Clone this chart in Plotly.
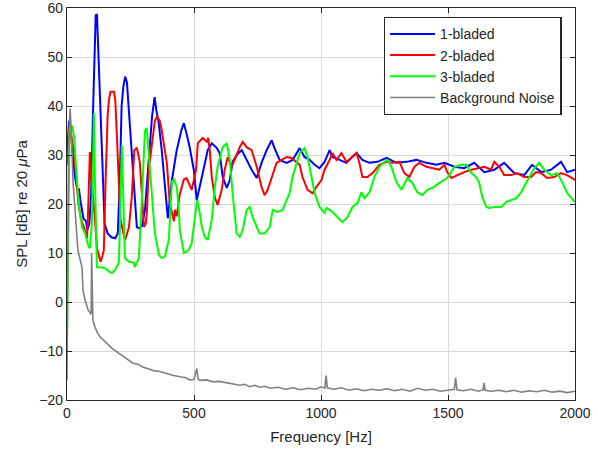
import plotly.graph_objects as go

# ---------------- data ----------------
freq_1 = [0, 8, 18, 30, 40, 47, 55, 65, 75, 80, 88, 95, 102, 108, 113, 118, 124, 132, 140, 148, 160, 175, 190, 200,
          208, 215, 222, 229, 236, 245, 255, 275, 285, 295, 307, 322, 335, 345, 352, 360, 373, 385, 393, 397, 413,
          432, 450, 460, 470, 483, 499, 511, 531, 554, 570, 590, 601, 613, 629, 641, 652, 668, 688, 707, 727, 747,
          766, 786, 806, 817, 837, 865, 888, 916, 935, 955, 975, 994, 1014, 1034, 1045, 1073, 1100, 1140, 1163,
          1191, 1222, 1258, 1297, 1336, 1376, 1415, 1454, 1486, 1525, 1564, 1603, 1643, 1682, 1721, 1761, 1800,
          1831, 1867, 1906, 1945, 1969, 2000]
spl_1 = [30, 37, 33, 26, 23, 23, 20, 17, 16.5, 14.7, 16, 22, 38, 52, 58.5, 58.7, 50, 35, 25, 16, 14, 13.2, 13, 14,
         25, 40, 44, 46, 44.8, 38, 31, 15.3, 15, 15.5, 18.8, 28.4, 38, 41.8, 39, 37, 31, 24, 19.4, 17.1, 24.9,
         31, 35, 36.5, 34.5, 31.6, 27, 20.8, 25.5, 31, 32.4, 31.4, 30.4, 25.5, 23.3, 24.9, 28.6, 30, 31, 29, 27, 25.3,
         28.4, 31, 33, 31.4, 29, 28.4, 29, 31.4, 29.6, 29, 28, 27.3, 28.6, 31, 29.6, 29, 28.4, 30.4, 29,
         28.4, 28.6, 29.4, 28.4, 28.6, 29, 28.4, 28, 28.4, 27.6, 27.3, 28.4, 26.5, 27, 28.4, 26.3, 25.9,
         28, 26.5, 27, 28.6, 26.5, 27]

freq_2 = [0, 10, 20, 31, 45, 55, 68, 79, 84, 90, 96, 106, 110, 118, 126, 132, 140, 145, 152, 160, 165, 171, 185,
          190, 196, 203, 210, 222, 229, 244, 255, 265, 275, 287, 295, 303, 310, 314, 322, 334, 346, 354, 365, 373,
          393, 405, 421, 425, 432, 444, 460, 471, 491, 500, 508, 515, 534, 550, 556, 562, 570, 582, 593, 609, 621,
          633, 648, 660, 680, 692, 707, 727, 747, 766, 778, 790, 806, 825, 845, 865, 884, 904, 916, 927, 947, 967,
          982, 1002, 1014, 1034, 1045, 1061, 1081, 1100, 1120, 1140, 1151, 1163, 1183, 1203, 1230, 1258, 1281,
          1309, 1328, 1348, 1368, 1387, 1415, 1438, 1466, 1486, 1497, 1513, 1537, 1564, 1592, 1615, 1643, 1670,
          1682, 1702, 1721, 1749, 1772, 1800, 1827, 1847, 1867, 1890, 1918, 1945, 1969, 2000]
spl_2 = [28, 36, 33, 29, 20, 17, 15, 13, 20, 30.6, 25, 19.8, 17, 11, 9.2, 8.2, 9.5, 10.6, 25, 38, 41.2, 42.9, 42.9,
         41.2, 34.5, 24, 17, 14, 12.7, 15.3, 21.4, 31, 31.5, 28.4, 21.4, 15.3, 16, 18, 27, 31.6, 37, 37.8, 37, 35,
         28.4, 20, 16.5, 18.8, 17.5, 22, 25, 25.3, 22.9, 25, 27, 32.4, 33.5, 32.7, 33.5, 31, 25.5, 21.4, 19.8, 22.9, 27,
         29.6, 27.6, 29, 31.6, 32.7, 31.6, 31, 27.6, 23.5, 21.8, 22.9, 25.5, 28.4, 29, 29.6, 29.4, 28.4, 28, 25.5, 22.9, 22.2,
         23.5, 24.9, 27, 29, 30.4, 29, 30.4, 28.6, 29.6, 30.4, 28.4, 25.5, 25.5, 26.3, 28, 28.6, 28.4,
         28.6, 26.3, 25.5, 27.6, 28.4, 27.6, 27.3, 27, 28, 26.5, 25.3, 25.9, 26.5, 27, 27.3, 27.6, 27,
         28.6, 27.6, 25.9, 25.9, 26.3, 25.5, 25.5, 26.5, 26.3, 25.3, 25.5, 26.3, 25.9, 24.9]

freq_3 = [0, 5, 10, 20, 28, 39, 47, 59, 71, 86, 90, 98, 102, 106, 110, 118, 130, 149, 169, 177, 189, 204, 208,
          212, 216, 220, 224, 228, 244, 263, 267, 283, 295, 307, 314, 322, 334, 346, 362, 373, 385, 401, 413, 421,
          432, 440, 444, 460, 479, 491, 503, 512, 520, 531, 542, 554, 570, 582, 593, 613, 629, 641, 652, 668, 680,
          692, 707, 719, 731, 747, 758, 778, 798, 810, 829, 849, 865, 876, 888, 904, 916, 935, 947, 963, 975, 994,
          1014, 1022, 1045, 1065, 1085, 1104, 1124, 1144, 1159, 1171, 1191, 1210, 1230, 1250, 1262, 1277, 1297,
          1317, 1328, 1340, 1360, 1379, 1399, 1419, 1446, 1466, 1497, 1505, 1525, 1552, 1572, 1592, 1611, 1623,
          1635, 1651, 1662, 1682, 1710, 1729, 1749, 1769, 1788, 1800, 1820, 1839, 1859, 1879, 1906, 1930, 1949,
          1969, 2000]
spl_3 = [-8, 20, 35, 36, 33.7, 24.9, 19.4, 15.3, 14, 11.2, 11, 16, 28.4, 38.6, 25, 7.1, 7.1, 6.9, 6.1, 5.9, 6.5, 8,
         14.7, 22.9, 32, 25, 14.7, 9, 8.2, 8, 7.1, 9, 21.4, 35, 35.5, 30, 21.4, 14, 9.6, 9, 9.2, 12.7, 24.5, 25,
         23.5, 19, 14.7, 10, 10.6, 12, 17, 20.8, 19, 15.3, 13.3, 12.7, 16.7, 23.5, 27.6, 31.6, 32.4, 29, 22.2, 14, 13.3,
         14.7, 18.8, 19.4, 17.3, 15.3, 14, 14, 15.3, 18.8, 18.4, 18.8, 20.8, 22.2, 25.5, 28.4, 30.4, 31.4, 29.6, 25.5, 22.2, 19.4,
         18.2, 19.2, 18.4, 17.3, 16.3, 17.3, 19.4, 20.2, 22.4, 21.2, 22.4, 25.5, 27.6, 28.6, 29, 27.6, 24.5,
         22.9, 23.9, 25.3, 24.3, 22.4, 21.8, 22.9, 23.5, 24.3, 25.3, 25.9, 27.6, 28, 28, 26.3, 25.5, 24.3,
         21.4, 19.4, 19.2, 19.4, 19.4, 20.4, 20.8, 21.2, 22.4, 23.5, 25.3, 27.3, 28.4, 27, 25.9, 26.3, 24.5,
         22.2, 20.4]

freq_bg = [0, 3, 6, 10, 12, 16, 20, 24, 30, 39, 43, 50, 59, 63, 71, 83, 90, 95, 97, 99, 102, 110, 120, 130, 145,
           157, 170, 181, 200, 220, 240, 260, 280, 300, 320, 340, 365, 400, 420, 450, 465, 483, 500, 506, 511, 516,
           523, 550, 574, 600, 629, 655, 680, 700, 719, 740, 758, 780, 800, 830, 860, 890, 920, 950, 980, 1000,
           1015, 1020, 1025, 1050, 1080, 1110, 1140, 1170, 1200, 1230, 1260, 1290, 1320, 1350, 1380, 1410, 1440,
           1470, 1500, 1525, 1530, 1535, 1560, 1590, 1620, 1638, 1642, 1646, 1670, 1700, 1730, 1760, 1790, 1820,
           1850, 1880, 1910, 1940, 1970, 2000]
spl_bg = [-16, 10, 30, 37, 39.5, 36, 30, 24.3, 20, 14, 10.6, 9, 7.1, 2.4, 0.4, -1.6, -2.2, -2.5, 10, -1, -3.7, -5.1,
          -6.3, -7.1, -7.9, -8.6, -9.1, -9.6, -10.3, -11, -11.8, -12.5, -12.7, -13.3, -13.6, -14, -14.2, -14.8,
          -15.0, -15.3, -15.4, -15.9, -15.8, -14.5, -13.6, -15.7, -16.0, -15.9, -16.3, -16.2, -16.5, -16.8, -17.0,
          -16.8, -17.3, -17.0, -17.4, -17.2, -17.6, -17.4, -17.8, -17.5, -17.9, -17.6, -17.8, -17.3, -17.6, -15.0,
          -17.5, -17.8, -17.5, -18.0, -17.7, -18.1, -17.8, -18.0, -17.7, -18.1, -17.8, -18.2, -17.6, -18.0,
          -17.8, -18.2, -17.9, -17.8, -15.5, -17.9, -18.1, -17.8, -18.2, -17.9, -16.5, -18.0, -18.2, -18.0,
          -18.3, -18.0, -18.4, -18.1, -18.3, -18.0, -18.4, -18.2, -18.5, -18.2]

series_names = ["1-bladed", "2-bladed", "3-bladed", "Background Noise"]
x_ticks = [0, 500, 1000, 1500, 2000]
y_ticks = [-20, -10, 0, 10, 20, 30, 40, 50, 60]

# ---------------- figure ----------------
fig = go.Figure()
styles = [("#0000FF", 2), ("#FF0000", 2), ("#00FF00", 2), ("#808080", 1.6)]
for (fx, sy), name, (col, w) in zip([(freq_1, spl_1), (freq_2, spl_2), (freq_3, spl_3), (freq_bg, spl_bg)],
                                     series_names, styles):
    fig.add_trace(go.Scatter(x=fx, y=sy, mode="lines", name=name,
                             line=dict(color=col, width=w)))

axis_common = dict(showline=True, linecolor="#262626", linewidth=1.3, mirror="ticks",
                   ticks="inside", ticklen=5, tickcolor="#262626", tickwidth=1.3,
                   showgrid=True, gridcolor="#D9D9D9", gridwidth=1, zeroline=False, automargin=False,
                   ticklabeloverflow="allow",
                   tickfont=dict(family="Liberation Sans, Arial", size=14, color="#262626"))

fig.update_layout(
    width=598, height=457,
    margin=dict(l=67, r=23, t=8, b=57),
    paper_bgcolor="white", plot_bgcolor="white",
    font=dict(family="Liberation Sans, Arial", size=14, color="#262626"),
    xaxis=dict(range=[0, 2000], tickvals=x_ticks,
               title=dict(text="Frequency [Hz]", font=dict(size=15), standoff=11), **axis_common),
    yaxis=dict(range=[-20, 60], tickvals=y_ticks,
               title=dict(text="SPL [dB] re 20 <i>μ</i>Pa", font=dict(size=15), standoff=8), **axis_common),
    legend=dict(x=0.974, y=0.977, xanchor="right", yanchor="top", itemwidth=45,
                bgcolor="white", bordercolor="#262626", borderwidth=1.3,
                font=dict(size=14, color="#262626"), tracegroupgap=0),
    showlegend=True,
)

fig.write_html("out.html", config={"displayModeBar": False},
               post_script="document.body.style.margin='0';")
